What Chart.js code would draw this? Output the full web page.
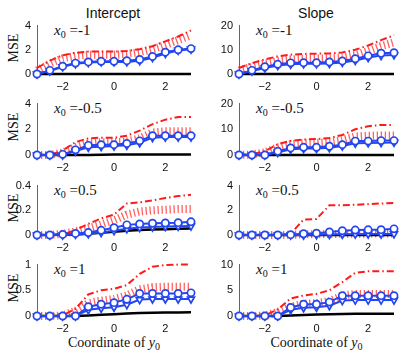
<!DOCTYPE html>
<html>
<head>
<meta charset="utf-8">
<script src="https://cdn.jsdelivr.net/npm/chart.js@4.4.1/dist/chart.umd.min.js"></script>
<style>
  body { margin: 0; background: #fff; width: 399px; height: 350px; position: relative; overflow: hidden; }
  canvas { position: absolute; }
  .t { position: absolute; white-space: nowrap; line-height: 1; color: #111; }
  .ttl { font: 14px "Liberation Sans", Arial, sans-serif; }
  .serif { font: 14px "Liberation Serif", "Times New Roman", serif; }
  .ann { font: 15px "Liberation Serif", "Times New Roman", serif; }
  .mse { transform: translate(-50%, -50%) rotate(-90deg); }
  sub { font-size: 10px; vertical-align: -3px; line-height: 0; }
</style>
</head>
<body>
<div class="t ttl" style="left:113px;top:5px;transform:translateX(-50%)">Intercept</div>
<div class="t ttl" style="left:316px;top:5px;transform:translateX(-50%)">Slope</div>
<div id="labels"></div>
<script>
// coordinate of y0 (x axis)
const yCoord = [-3, -2.5, -2, -1.5, -1, -0.5, 0, 0.5, 1, 1.5, 2, 2.5, 3];

// Intercept, x0 = -1
const int1Dash  = [0.5, 1.1, 1.55, 1.75, 1.85, 1.85, 1.85, 1.9, 2.05, 2.3, 2.7, 3.1, 3.6];
const int1Dot   = [0.3, 0.85, 1.3, 1.5, 1.6, 1.6, 1.6, 1.65, 1.8, 2.05, 2.4, 2.8, 3.2];
const int1Circ  = [0, 0.3, 0.65, 0.9, 1.0, 1.05, 1.05, 1.1, 1.2, 1.45, 1.8, 2.0, 2.1];
const int1Tri   = [0, 0.25, 0.6, 0.85, 0.95, 1.0, 1.0, 1.0, 1.1, 1.35, 1.7, 1.95, 2.05];
const int1Black = [0, 0, 0, 0, 0, 0, 0, 0, 0, 0, 0, 0, 0];

// Slope, x0 = -1
const slo1Dash  = [2.5, 4.5, 6.0, 7.3, 8.0, 8.3, 8.4, 8.5, 8.9, 10, 11.8, 14, 16];
const slo1Dot   = [1.5, 3.0, 4.3, 5.4, 6.0, 6.3, 6.4, 6.5, 6.8, 7.8, 9.5, 11.5, 13];
const slo1Circ  = [0, 1.5, 3.0, 4.0, 4.6, 4.7, 4.7, 5.0, 5.4, 6.3, 7.5, 8.6, 8.8];
const slo1Tri   = [0, 1.2, 2.5, 3.5, 4.0, 4.2, 4.2, 4.3, 4.8, 5.6, 6.8, 7.6, 7.9];
const slo1Black = [0, 0, 0, 0, 0, 0, 0, 0, 0, 0, 0, 0, 0];

// Intercept, x0 = -0.5
const int2Dash  = [0, 0, 0.35, 1.0, 1.3, 1.35, 1.35, 1.5, 1.9, 2.4, 2.75, 2.95, 2.95];
const int2Dot   = [0, 0, 0.2, 0.6, 0.9, 1.0, 1.0, 1.05, 1.3, 1.75, 1.85, 1.85, 1.85];
const int2Circ  = [0, 0, 0.05, 0.4, 0.75, 0.8, 0.8, 0.9, 1.1, 1.5, 1.5, 1.5, 1.5];
const int2Tri   = [0, 0, 0, 0.3, 0.6, 0.65, 0.7, 0.75, 0.95, 1.35, 1.4, 1.4, 1.4];
const int2Black = [0, 0, 0, 0, 0, 0.02, 0.03, 0.03, 0.04, 0.04, 0.04, 0.04, 0.04];

// Slope, x0 = -0.5
const slo2Dash  = [0, 0.3, 1.5, 4.2, 5.5, 6.0, 6.2, 6.6, 7.8, 10, 11.2, 11.7, 11.7];
const slo2Dot   = [0, 0.2, 1.0, 3.0, 4.2, 4.6, 4.7, 5.0, 5.8, 7.2, 7.5, 7.6, 7.6];
const slo2Circ  = [0, 0, 0, 1.5, 2.75, 3.0, 3.0, 3.4, 4.0, 5.4, 5.4, 5.6, 5.6];
const slo2Tri   = [0, 0, 0, 1.0, 2.2, 2.5, 2.5, 2.8, 3.5, 4.6, 4.7, 4.8, 4.9];
const slo2Black = [0, 0, 0, 0, 0, 0, 0, 0, 0, 0, 0, 0, 0];

// Intercept, x0 = 0.5
const int3Dash  = [0, 0, 0.005, 0.04, 0.09, 0.135, 0.165, 0.255, 0.265, 0.28, 0.3, 0.315, 0.325];
const int3Dot   = [0, 0, 0.01, 0.03, 0.055, 0.085, 0.12, 0.165, 0.19, 0.2, 0.205, 0.21, 0.21];
const int3Circ  = [0, 0, 0.005, 0.013, 0.02, 0.038, 0.059, 0.082, 0.09, 0.095, 0.097, 0.1, 0.107];
const int3Tri   = [0, 0, 0, 0.005, 0.01, 0.02, 0.035, 0.05, 0.06, 0.065, 0.068, 0.07, 0.072];
const int3Black = [0, 0, 0.002, 0.005, 0.01, 0.018, 0.026, 0.034, 0.04, 0.044, 0.047, 0.05, 0.052];

// Slope, x0 = 0.5
const slo3Dash  = [0, 0, 0, 0, 0.1, 1.25, 1.3, 2.4, 2.4, 2.45, 2.5, 2.55, 2.6];
const slo3Dot   = [0, 0, 0, 0, 0.02, 0.05, 0.06, 0.08, 0.1, 0.1, 0.11, 0.12, 0.12];
const slo3Circ  = [0, 0, 0, 0, 0.03, 0.1, 0.15, 0.25, 0.35, 0.4, 0.42, 0.43, 0.5];
const slo3Tri   = [0, 0, 0, 0, 0, 0, 0.02, 0.04, 0.06, 0.07, 0.08, 0.08, 0.09];
const slo3Black = [0, 0, 0, 0, 0, 0, 0, 0, 0, 0, 0, 0, 0];

// Intercept, x0 = 1
const int4Dash  = [0, 0, 0.01, 0.14, 0.42, 0.5, 0.53, 0.6, 0.82, 0.96, 0.99, 1.0, 1.0];
const int4Dot   = [0, 0, 0.01, 0.1, 0.25, 0.3, 0.33, 0.4, 0.52, 0.56, 0.57, 0.57, 0.57];
const int4Circ  = [0, 0, 0, 0, 0.18, 0.23, 0.26, 0.325, 0.44, 0.44, 0.44, 0.44, 0.45];
const int4Tri   = [0, 0, 0, 0, 0.12, 0.15, 0.17, 0.22, 0.32, 0.33, 0.33, 0.33, 0.33];
const int4Black = [0, 0, 0, 0, 0.01, 0.025, 0.035, 0.05, 0.06, 0.065, 0.068, 0.07, 0.072];

// Slope, x0 = 1
const slo4Dash  = [0, 0, 0.1, 1.3, 3.4, 4.0, 4.3, 5.0, 6.6, 8.4, 8.7, 8.7, 8.7];
const slo4Dot   = [0, 0, 0.1, 0.8, 1.8, 2.4, 2.5, 2.9, 4.0, 4.3, 4.3, 4.3, 4.3];
const slo4Circ  = [0, 0, 0, 0, 1.65, 2.3, 2.3, 2.7, 3.95, 3.95, 3.95, 3.95, 3.95];
const slo4Tri   = [0, 0, 0, 0, 1.2, 1.6, 1.7, 2.0, 3.0, 3.1, 3.1, 3.1, 3.1];
const slo4Black = [0, 0, 0, 0, 0.1, 0.2, 0.3, 0.35, 0.4, 0.42, 0.44, 0.45, 0.45];

const xTicks = [-2, 0, 2];
const x0Labels = ['-1', '-0.5', '0.5', '1'];
const yMaxLeft = [4, 4, 0.4, 1];
const yMaxRight = [20, 20, 4, 10];

// layout (pixels)
const cols = [
  { x: 0, areaL: 37, areaR: 191 },
  { x: 200, areaL: 239, areaR: 394 }
];
const rows = [
  { top: 23, bot: 74 },
  { top: 101, bot: 155 },
  { top: 183, bot: 235 },
  { top: 262, bot: 316 }
];

const panels = [
  [int1Dash, int1Dot, int1Circ, int1Tri, int1Black],
  [slo1Dash, slo1Dot, slo1Circ, slo1Tri, slo1Black],
  [int2Dash, int2Dot, int2Circ, int2Tri, int2Black],
  [slo2Dash, slo2Dot, slo2Circ, slo2Tri, slo2Black],
  [int3Dash, int3Dot, int3Circ, int3Tri, int3Black],
  [slo3Dash, slo3Dot, slo3Circ, slo3Tri, slo3Black],
  [int4Dash, int4Dot, int4Circ, int4Tri, int4Black],
  [slo4Dash, slo4Dot, slo4Circ, slo4Tri, slo4Black]
];

const BLUE = '#2346f0';
const RED = '#ff1a1a';
const PAD_TOP = 10, XAX_H = 22, PAD_R = 6;

const pts = vals => vals.map((v, i) => ({ x: yCoord[i], y: v }));
const fmt = v => (v < 0 ? '\u2212' : '') + String(Math.abs(+v.toFixed(3)));
const labelsDiv = document.getElementById('labels');

function addText(html, cls, style) {
  const d = document.createElement('div');
  d.className = 't ' + cls;
  d.setAttribute('style', style);
  d.innerHTML = html;
  labelsDiv.appendChild(d);
}

panels.forEach((series, idx) => {
  const r = Math.floor(idx / 2), c = idx % 2;
  const col = cols[c], row = rows[r];
  const yMax = c === 0 ? yMaxLeft[r] : yMaxRight[r];
  const [dash, dot, circ, tri, black] = series;

  const cv = document.createElement('canvas');
  const w = col.areaR + PAD_R - col.x;
  const h = row.bot - row.top + PAD_TOP + XAX_H;
  cv.width = w; cv.height = h;
  cv.style.left = col.x + 'px';
  cv.style.top = (row.top - PAD_TOP) + 'px';
  cv.style.width = w + 'px'; cv.style.height = h + 'px';
  document.body.appendChild(cv);

  new Chart(cv.getContext('2d'), {
    type: 'line',
    data: {
      datasets: [
        { data: pts(circ), borderColor: BLUE, borderWidth: 2, pointStyle: 'circle', pointRadius: 3.6,
          pointBorderWidth: 1.7, pointBackgroundColor: '#fff', pointBorderColor: BLUE, order: 0, clip: false },
        { data: pts(tri), borderColor: BLUE, borderWidth: 2, pointStyle: 'triangle', pointRotation: 180, pointRadius: 4,
          pointBorderWidth: 1.7, pointBackgroundColor: '#fff', pointBorderColor: BLUE, order: 1, clip: false },
        { data: pts(black), borderColor: '#000', borderWidth: 2.5, pointRadius: 0, order: 2, clip: false },
        { data: pts(dash), borderColor: RED, borderWidth: 2, borderDash: [7, 3, 1.5, 3], pointRadius: 0, order: 3, clip: false },
        { data: pts(dot), borderColor: 'rgba(255,30,30,0.7)', borderWidth: 8, borderDash: [1.3, 2.7],
          borderCapStyle: 'butt', pointRadius: 0, order: 4, clip: false }
      ]
    },
    options: {
      responsive: false,
      animation: false,
      devicePixelRatio: 1,
      layout: { padding: { top: PAD_TOP, right: PAD_R, left: 0, bottom: 0 } },
      plugins: { legend: { display: false }, tooltip: { enabled: false } },
      elements: { line: { tension: 0 } },
      scales: {
        x: {
          type: 'linear', min: -3, max: 3,
          grid: { display: false, drawTicks: false },
          border: { display: false },
          ticks: { padding: 6, color: '#111', font: { family: 'Liberation Sans', size: 11 }, callback: fmt },
          afterBuildTicks: s => { s.ticks = xTicks.map(v => ({ value: v })); },
          afterFit: s => { s.height = XAX_H; }
        },
        y: {
          min: 0, max: yMax,
          grid: { display: false, drawTicks: false },
          border: { display: true, color: '#666', width: 1 },
          ticks: { padding: 6, color: '#111', font: { family: 'Liberation Sans', size: 11 }, callback: fmt },
          afterBuildTicks: s => { s.ticks = [0, yMax / 2, yMax].map(v => ({ value: v })); },
          afterFit: s => { s.width = col.areaL - col.x; }
        }
      }
    }
  });

  // x0 annotation
  addText('<i>x</i><sub>0</sub> =' + x0Labels[r], 'ann',
    'left:' + (col.areaL + 17) + 'px;top:' + (row.top - 1) + 'px');
  if (c === 0) {
    addText('MSE', 'serif mse', 'left:14px;top:' + ((row.top + row.bot) / 2 - 1) + 'px');
  }
  if (r === 3) {
    addText('Coordinate of <i>y</i><sub>0</sub>', 'serif',
      'left:' + ((col.areaL + col.areaR) / 2) + 'px;top:335px;transform:translateX(-50%)');
  }
});
</script>
</body>
</html>
